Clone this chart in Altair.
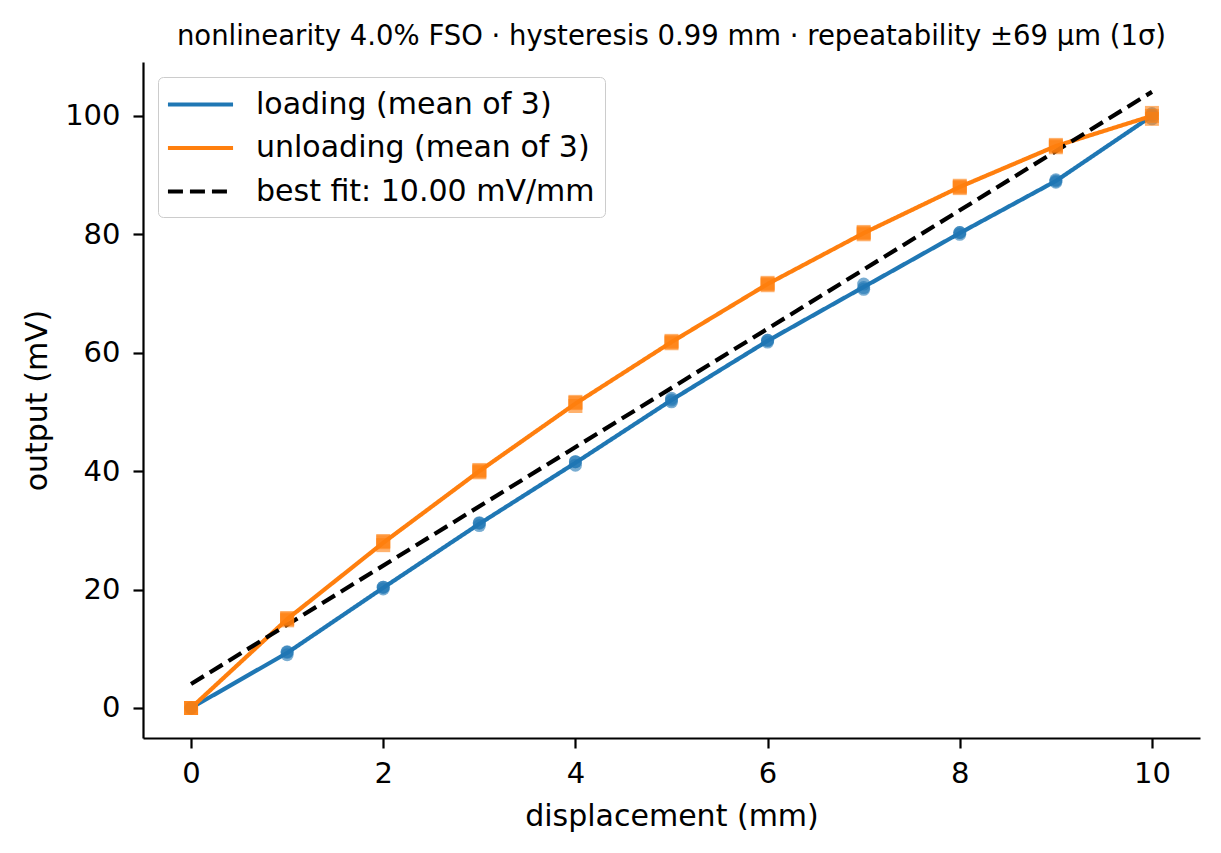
import altair as alt
import pandas as pd

# ---- data ----
disp = [0, 1, 2, 3, 4, 5, 6, 7, 8, 9, 10]

load_mean = [0.0, 9.3, 20.3, 31.1, 41.4, 52.0, 62.0, 71.1, 80.2, 89.0, 100.0]
unload_mean = [0.0, 15.0, 27.9, 40.0, 51.4, 61.8, 71.6, 80.2, 88.0, 94.9, 100.0]

load_rep1 = [0.0, 9.0, 20.1, 30.8, 41.0, 51.7, 61.8, 70.7, 80.0, 88.8, 99.5]
load_rep2 = [0.0, 9.5, 20.4, 31.3, 41.6, 52.3, 62.1, 71.6, 80.3, 89.2, 100.4]
load_rep3 = [0.0, 9.4, 20.4, 31.2, 41.6, 52.0, 62.1, 71.0, 80.3, 89.0, 100.1]

unload_rep1 = [0.0, 14.8, 27.5, 39.8, 51.0, 61.6, 71.4, 80.0, 87.8, 94.7, 99.5]
unload_rep2 = [0.0, 15.2, 28.2, 40.2, 51.7, 62.0, 71.8, 80.4, 88.2, 95.1, 100.5]
unload_rep3 = [0.0, 15.0, 28.0, 40.0, 51.5, 61.8, 71.6, 80.2, 88.0, 94.9, 100.0]

fit_x = [0, 10]
fit_y = [4.05, 104.05]

S_LOAD = "loading (mean of 3)"
S_UNLOAD = "unloading (mean of 3)"
S_FIT = "best fit: 10.00 mV/mm"
series_names = [S_LOAD, S_UNLOAD, S_FIT]
series_colors = ["#1f77b4", "#ff7f0e", "#000000"]
series_dash = [[1, 0], [1, 0], [15, 7]]

TITLE = "nonlinearity 4.0% FSO \u00b7 hysteresis 0.99 mm \u00b7 repeatability \u00b169 \u00b5m (1\u03c3)"

# ---- tables ----
lines_rows = []
for x, y in zip(disp, load_mean):
    lines_rows.append({"series": S_LOAD, "x": x, "y": y, "order": x})
for x, y in zip(disp, unload_mean):
    lines_rows.append({"series": S_UNLOAD, "x": x, "y": y, "order": x})
for x, y in zip(fit_x, fit_y):
    lines_rows.append({"series": S_FIT, "x": x, "y": y, "order": x})
lines_df = pd.DataFrame(lines_rows)

load_pts = pd.DataFrame(
    [{"x": x, "y": y} for rep in (load_rep1, load_rep2, load_rep3) for x, y in zip(disp, rep)]
)
unload_pts = pd.DataFrame(
    [{"x": x, "y": y} for rep in (unload_rep1, unload_rep2, unload_rep3) for x, y in zip(disp, rep)]
)

FONT = "DejaVu Sans"

xscale = alt.Scale(domain=[-0.5, 10.5], nice=False, zero=False)
yscale = alt.Scale(domain=[-5.07, 109.1], nice=False, zero=False)

xaxis = alt.Axis(values=[0, 2, 4, 6, 8, 10], title="displacement (mm)", format="d")
yaxis = alt.Axis(values=[0, 20, 40, 60, 80, 100], title="output (mV)", format="d")

lines = alt.Chart(lines_df).mark_line(strokeWidth=4.2, clip=True).encode(
    x=alt.X("x:Q", scale=xscale, axis=xaxis),
    y=alt.Y("y:Q", scale=yscale, axis=yaxis),
    order="order:Q",
    color=alt.Color(
        "series:N",
        scale=alt.Scale(domain=series_names, range=series_colors),
        legend=alt.Legend(
            title=None,
            orient="none",
            legendX=15,
            legendY=15,
            symbolType="M-2.17,0L2.17,0",
            symbolSize=900,
            symbolStrokeWidth=4.2,
            symbolOffset=15,
            labelFontSize=30,
            labelFont=FONT,
            labelColor="black",
            fillColor="white",
            strokeColor="#cccccc",
            cornerRadius=5,
            padding=10,
            rowPadding=10.5,
            labelOffset=38,
            labelLimit=600,
        ),
    ),
    strokeDash=alt.StrokeDash(
        "series:N",
        scale=alt.Scale(domain=series_names, range=series_dash),
        legend=None,
    ),
)

load_points = alt.Chart(load_pts).mark_point(
    shape="circle", filled=True, size=169, opacity=0.6, color="#1f77b4"
).encode(x=alt.X("x:Q", scale=xscale), y=alt.Y("y:Q", scale=yscale))

unload_points = alt.Chart(unload_pts).mark_point(
    shape="square", filled=True, size=196, opacity=0.6, color="#ff7f0e"
).encode(x=alt.X("x:Q", scale=xscale), y=alt.Y("y:Q", scale=yscale))

chart = (
    alt.layer(lines, load_points, unload_points)
    .properties(
        width=1057,
        height=676,
        title=alt.TitleParams(
            TITLE, fontSize=27.5, font=FONT, fontWeight="normal", color="black",
            anchor="middle", offset=12,
        ),
        autosize=alt.AutoSizeParams(type="none"),
        padding={"left": 135, "top": 54, "right": 5, "bottom": 100},
    )
    .configure_view(stroke=None)
    .configure_axis(
        grid=False,
        labelFont=FONT,
        titleFont=FONT,
        labelFontSize=29,
        titleFontSize=30,
        titleFontWeight="normal",
        labelColor="black",
        titleColor="black",
        domainColor="black",
        tickColor="black",
        domainWidth=2.2,
        tickWidth=2.2,
        tickSize=10,
    )
    .configure_axisX(titlePadding=13, labelPadding=11)
    .configure_axisY(titlePadding=12, labelPadding=13)
)

chart.save("out.html", embed_options={"renderer": "svg", "actions": False})
